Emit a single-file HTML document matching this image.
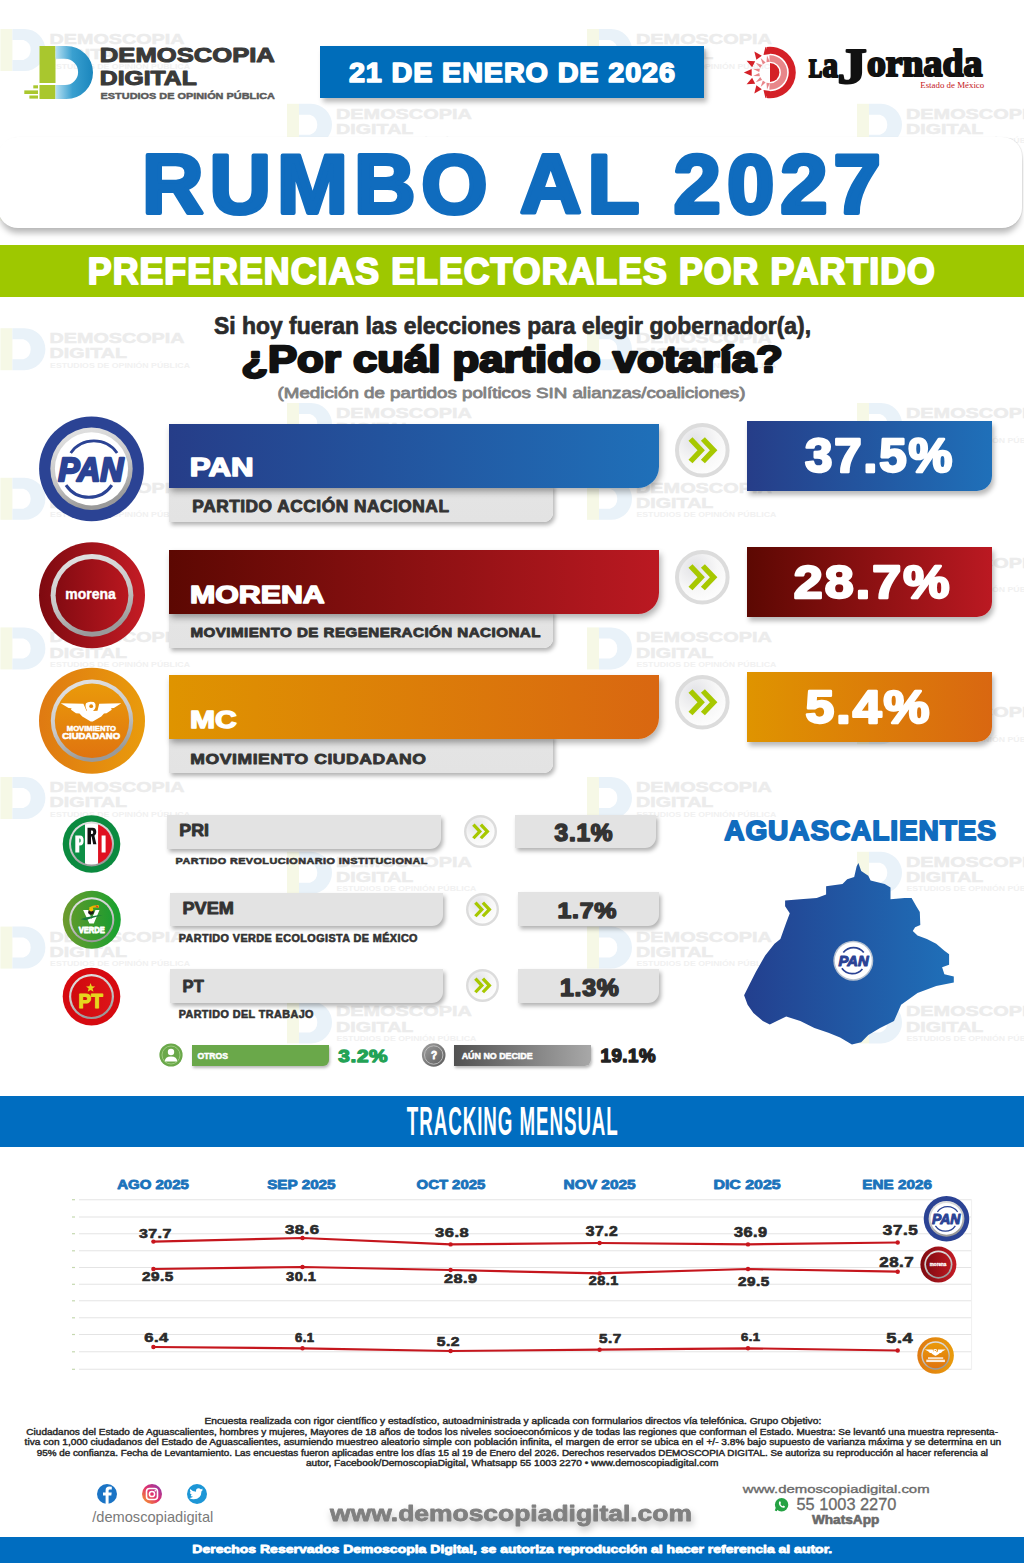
<!DOCTYPE html>
<html><head><meta charset="utf-8"><title>Rumbo al 2027</title>
<style>
html,body{margin:0;padding:0;background:#fff;}
body{width:1024px;height:1563px;position:relative;overflow:hidden;font-family:"Liberation Sans", sans-serif;}
svg{position:absolute;overflow:visible}
</style></head><body>
<svg style="left:0;top:0" width="1024" height="1100" viewBox="0 0 1024 1100"><g transform="translate(50.4,33.0)">
<rect x="-50" y="-4" width="12" height="42" fill="#f6f8e6"/>
<path d="M-38 -4 H-26 A21 21 0 0 1 -26 38 H-38 V27 H-27 A10.5 10.5 0 0 0 -27 7 H-38 Z" fill="#e9f2f9"/>
</g><text transform="translate(49.62,44.05) scale(1.2853,1)" font-family='"Liberation Sans", sans-serif' font-size="15.36" font-weight="bold" font-style="normal" fill="#ececec"  stroke="#ececec" stroke-width="0.5" stroke-linejoin="round"  >DEMOSCOPIA</text><text transform="translate(49.61,59.15) scale(1.3344,1)" font-family='"Liberation Sans", sans-serif' font-size="14.79" font-weight="bold" font-style="normal" fill="#ececec"  stroke="#ececec" stroke-width="0.5" stroke-linejoin="round"  >DIGITAL</text><text transform="translate(50.05,68.50) scale(1.1840,1)" font-family='"Liberation Sans", sans-serif' font-size="7.40" font-weight="bold" font-style="normal" fill="#f1f1f1"   >ESTUDIOS DE OPINIÓN PÚBLICA</text><g transform="translate(637.0,33.0)">
<rect x="-50" y="-4" width="12" height="42" fill="#f6f8e6"/>
<path d="M-38 -4 H-26 A21 21 0 0 1 -26 38 H-38 V27 H-27 A10.5 10.5 0 0 0 -27 7 H-38 Z" fill="#e9f2f9"/>
</g><text transform="translate(636.01,44.05) scale(1.2949,1)" font-family='"Liberation Sans", sans-serif' font-size="15.36" font-weight="bold" font-style="normal" fill="#ececec"  stroke="#ececec" stroke-width="0.5" stroke-linejoin="round"  >DEMOSCOPIA</text><text transform="translate(636.02,59.15) scale(1.3344,1)" font-family='"Liberation Sans", sans-serif' font-size="14.79" font-weight="bold" font-style="normal" fill="#ececec"  stroke="#ececec" stroke-width="0.5" stroke-linejoin="round"  >DIGITAL</text><text transform="translate(636.45,68.50) scale(1.1840,1)" font-family='"Liberation Sans", sans-serif' font-size="7.40" font-weight="bold" font-style="normal" fill="#f1f1f1"   >ESTUDIOS DE OPINIÓN PÚBLICA</text><g transform="translate(337.0,107.8)">
<rect x="-50" y="-4" width="12" height="42" fill="#f6f8e6"/>
<path d="M-38 -4 H-26 A21 21 0 0 1 -26 38 H-38 V27 H-27 A10.5 10.5 0 0 0 -27 7 H-38 Z" fill="#e9f2f9"/>
</g><text transform="translate(336.01,118.85) scale(1.2949,1)" font-family='"Liberation Sans", sans-serif' font-size="15.36" font-weight="bold" font-style="normal" fill="#ececec"  stroke="#ececec" stroke-width="0.5" stroke-linejoin="round"  >DEMOSCOPIA</text><text transform="translate(336.02,133.95) scale(1.3344,1)" font-family='"Liberation Sans", sans-serif' font-size="14.79" font-weight="bold" font-style="normal" fill="#ececec"  stroke="#ececec" stroke-width="0.5" stroke-linejoin="round"  >DIGITAL</text><text transform="translate(336.45,143.30) scale(1.1840,1)" font-family='"Liberation Sans", sans-serif' font-size="7.40" font-weight="bold" font-style="normal" fill="#f1f1f1"   >ESTUDIOS DE OPINIÓN PÚBLICA</text><g transform="translate(907.0,107.8)">
<rect x="-50" y="-4" width="12" height="42" fill="#f6f8e6"/>
<path d="M-38 -4 H-26 A21 21 0 0 1 -26 38 H-38 V27 H-27 A10.5 10.5 0 0 0 -27 7 H-38 Z" fill="#e9f2f9"/>
</g><text transform="translate(906.01,118.85) scale(1.2949,1)" font-family='"Liberation Sans", sans-serif' font-size="15.36" font-weight="bold" font-style="normal" fill="#ececec"  stroke="#ececec" stroke-width="0.5" stroke-linejoin="round"  >DEMOSCOPIA</text><text transform="translate(906.02,133.95) scale(1.3344,1)" font-family='"Liberation Sans", sans-serif' font-size="14.79" font-weight="bold" font-style="normal" fill="#ececec"  stroke="#ececec" stroke-width="0.5" stroke-linejoin="round"  >DIGITAL</text><text transform="translate(906.45,143.30) scale(1.1840,1)" font-family='"Liberation Sans", sans-serif' font-size="7.40" font-weight="bold" font-style="normal" fill="#f1f1f1"   >ESTUDIOS DE OPINIÓN PÚBLICA</text><g transform="translate(50.4,182.6)">
<rect x="-50" y="-4" width="12" height="42" fill="#f6f8e6"/>
<path d="M-38 -4 H-26 A21 21 0 0 1 -26 38 H-38 V27 H-27 A10.5 10.5 0 0 0 -27 7 H-38 Z" fill="#e9f2f9"/>
</g><text transform="translate(49.62,193.65) scale(1.2853,1)" font-family='"Liberation Sans", sans-serif' font-size="15.36" font-weight="bold" font-style="normal" fill="#ececec"  stroke="#ececec" stroke-width="0.5" stroke-linejoin="round"  >DEMOSCOPIA</text><text transform="translate(49.61,208.75) scale(1.3344,1)" font-family='"Liberation Sans", sans-serif' font-size="14.79" font-weight="bold" font-style="normal" fill="#ececec"  stroke="#ececec" stroke-width="0.5" stroke-linejoin="round"  >DIGITAL</text><text transform="translate(50.05,218.10) scale(1.1840,1)" font-family='"Liberation Sans", sans-serif' font-size="7.40" font-weight="bold" font-style="normal" fill="#f1f1f1"   >ESTUDIOS DE OPINIÓN PÚBLICA</text><g transform="translate(637.0,182.6)">
<rect x="-50" y="-4" width="12" height="42" fill="#f6f8e6"/>
<path d="M-38 -4 H-26 A21 21 0 0 1 -26 38 H-38 V27 H-27 A10.5 10.5 0 0 0 -27 7 H-38 Z" fill="#e9f2f9"/>
</g><text transform="translate(636.01,193.65) scale(1.2949,1)" font-family='"Liberation Sans", sans-serif' font-size="15.36" font-weight="bold" font-style="normal" fill="#ececec"  stroke="#ececec" stroke-width="0.5" stroke-linejoin="round"  >DEMOSCOPIA</text><text transform="translate(636.02,208.75) scale(1.3344,1)" font-family='"Liberation Sans", sans-serif' font-size="14.79" font-weight="bold" font-style="normal" fill="#ececec"  stroke="#ececec" stroke-width="0.5" stroke-linejoin="round"  >DIGITAL</text><text transform="translate(636.45,218.10) scale(1.1840,1)" font-family='"Liberation Sans", sans-serif' font-size="7.40" font-weight="bold" font-style="normal" fill="#f1f1f1"   >ESTUDIOS DE OPINIÓN PÚBLICA</text><g transform="translate(337.0,257.4)">
<rect x="-50" y="-4" width="12" height="42" fill="#f6f8e6"/>
<path d="M-38 -4 H-26 A21 21 0 0 1 -26 38 H-38 V27 H-27 A10.5 10.5 0 0 0 -27 7 H-38 Z" fill="#e9f2f9"/>
</g><text transform="translate(336.01,268.45) scale(1.2949,1)" font-family='"Liberation Sans", sans-serif' font-size="15.36" font-weight="bold" font-style="normal" fill="#ececec"  stroke="#ececec" stroke-width="0.5" stroke-linejoin="round"  >DEMOSCOPIA</text><text transform="translate(336.02,283.55) scale(1.3344,1)" font-family='"Liberation Sans", sans-serif' font-size="14.79" font-weight="bold" font-style="normal" fill="#ececec"  stroke="#ececec" stroke-width="0.5" stroke-linejoin="round"  >DIGITAL</text><text transform="translate(336.45,292.90) scale(1.1840,1)" font-family='"Liberation Sans", sans-serif' font-size="7.40" font-weight="bold" font-style="normal" fill="#f1f1f1"   >ESTUDIOS DE OPINIÓN PÚBLICA</text><g transform="translate(907.0,257.4)">
<rect x="-50" y="-4" width="12" height="42" fill="#f6f8e6"/>
<path d="M-38 -4 H-26 A21 21 0 0 1 -26 38 H-38 V27 H-27 A10.5 10.5 0 0 0 -27 7 H-38 Z" fill="#e9f2f9"/>
</g><text transform="translate(906.01,268.45) scale(1.2949,1)" font-family='"Liberation Sans", sans-serif' font-size="15.36" font-weight="bold" font-style="normal" fill="#ececec"  stroke="#ececec" stroke-width="0.5" stroke-linejoin="round"  >DEMOSCOPIA</text><text transform="translate(906.02,283.55) scale(1.3344,1)" font-family='"Liberation Sans", sans-serif' font-size="14.79" font-weight="bold" font-style="normal" fill="#ececec"  stroke="#ececec" stroke-width="0.5" stroke-linejoin="round"  >DIGITAL</text><text transform="translate(906.45,292.90) scale(1.1840,1)" font-family='"Liberation Sans", sans-serif' font-size="7.40" font-weight="bold" font-style="normal" fill="#f1f1f1"   >ESTUDIOS DE OPINIÓN PÚBLICA</text><g transform="translate(50.4,332.2)">
<rect x="-50" y="-4" width="12" height="42" fill="#f6f8e6"/>
<path d="M-38 -4 H-26 A21 21 0 0 1 -26 38 H-38 V27 H-27 A10.5 10.5 0 0 0 -27 7 H-38 Z" fill="#e9f2f9"/>
</g><text transform="translate(49.62,343.25) scale(1.2853,1)" font-family='"Liberation Sans", sans-serif' font-size="15.36" font-weight="bold" font-style="normal" fill="#ececec"  stroke="#ececec" stroke-width="0.5" stroke-linejoin="round"  >DEMOSCOPIA</text><text transform="translate(49.61,358.35) scale(1.3344,1)" font-family='"Liberation Sans", sans-serif' font-size="14.79" font-weight="bold" font-style="normal" fill="#ececec"  stroke="#ececec" stroke-width="0.5" stroke-linejoin="round"  >DIGITAL</text><text transform="translate(50.05,367.70) scale(1.1840,1)" font-family='"Liberation Sans", sans-serif' font-size="7.40" font-weight="bold" font-style="normal" fill="#f1f1f1"   >ESTUDIOS DE OPINIÓN PÚBLICA</text><g transform="translate(637.0,332.2)">
<rect x="-50" y="-4" width="12" height="42" fill="#f6f8e6"/>
<path d="M-38 -4 H-26 A21 21 0 0 1 -26 38 H-38 V27 H-27 A10.5 10.5 0 0 0 -27 7 H-38 Z" fill="#e9f2f9"/>
</g><text transform="translate(636.01,343.25) scale(1.2949,1)" font-family='"Liberation Sans", sans-serif' font-size="15.36" font-weight="bold" font-style="normal" fill="#ececec"  stroke="#ececec" stroke-width="0.5" stroke-linejoin="round"  >DEMOSCOPIA</text><text transform="translate(636.02,358.35) scale(1.3344,1)" font-family='"Liberation Sans", sans-serif' font-size="14.79" font-weight="bold" font-style="normal" fill="#ececec"  stroke="#ececec" stroke-width="0.5" stroke-linejoin="round"  >DIGITAL</text><text transform="translate(636.45,367.70) scale(1.1840,1)" font-family='"Liberation Sans", sans-serif' font-size="7.40" font-weight="bold" font-style="normal" fill="#f1f1f1"   >ESTUDIOS DE OPINIÓN PÚBLICA</text><g transform="translate(337.0,407.0)">
<rect x="-50" y="-4" width="12" height="42" fill="#f6f8e6"/>
<path d="M-38 -4 H-26 A21 21 0 0 1 -26 38 H-38 V27 H-27 A10.5 10.5 0 0 0 -27 7 H-38 Z" fill="#e9f2f9"/>
</g><text transform="translate(336.01,418.05) scale(1.2949,1)" font-family='"Liberation Sans", sans-serif' font-size="15.36" font-weight="bold" font-style="normal" fill="#ececec"  stroke="#ececec" stroke-width="0.5" stroke-linejoin="round"  >DEMOSCOPIA</text><text transform="translate(336.02,433.15) scale(1.3344,1)" font-family='"Liberation Sans", sans-serif' font-size="14.79" font-weight="bold" font-style="normal" fill="#ececec"  stroke="#ececec" stroke-width="0.5" stroke-linejoin="round"  >DIGITAL</text><text transform="translate(336.45,442.50) scale(1.1840,1)" font-family='"Liberation Sans", sans-serif' font-size="7.40" font-weight="bold" font-style="normal" fill="#f1f1f1"   >ESTUDIOS DE OPINIÓN PÚBLICA</text><g transform="translate(907.0,407.0)">
<rect x="-50" y="-4" width="12" height="42" fill="#f6f8e6"/>
<path d="M-38 -4 H-26 A21 21 0 0 1 -26 38 H-38 V27 H-27 A10.5 10.5 0 0 0 -27 7 H-38 Z" fill="#e9f2f9"/>
</g><text transform="translate(906.01,418.05) scale(1.2949,1)" font-family='"Liberation Sans", sans-serif' font-size="15.36" font-weight="bold" font-style="normal" fill="#ececec"  stroke="#ececec" stroke-width="0.5" stroke-linejoin="round"  >DEMOSCOPIA</text><text transform="translate(906.02,433.15) scale(1.3344,1)" font-family='"Liberation Sans", sans-serif' font-size="14.79" font-weight="bold" font-style="normal" fill="#ececec"  stroke="#ececec" stroke-width="0.5" stroke-linejoin="round"  >DIGITAL</text><text transform="translate(906.45,442.50) scale(1.1840,1)" font-family='"Liberation Sans", sans-serif' font-size="7.40" font-weight="bold" font-style="normal" fill="#f1f1f1"   >ESTUDIOS DE OPINIÓN PÚBLICA</text><g transform="translate(50.4,481.8)">
<rect x="-50" y="-4" width="12" height="42" fill="#f6f8e6"/>
<path d="M-38 -4 H-26 A21 21 0 0 1 -26 38 H-38 V27 H-27 A10.5 10.5 0 0 0 -27 7 H-38 Z" fill="#e9f2f9"/>
</g><text transform="translate(49.62,492.85) scale(1.2853,1)" font-family='"Liberation Sans", sans-serif' font-size="15.36" font-weight="bold" font-style="normal" fill="#ececec"  stroke="#ececec" stroke-width="0.5" stroke-linejoin="round"  >DEMOSCOPIA</text><text transform="translate(49.61,507.95) scale(1.3344,1)" font-family='"Liberation Sans", sans-serif' font-size="14.79" font-weight="bold" font-style="normal" fill="#ececec"  stroke="#ececec" stroke-width="0.5" stroke-linejoin="round"  >DIGITAL</text><text transform="translate(50.05,517.30) scale(1.1840,1)" font-family='"Liberation Sans", sans-serif' font-size="7.40" font-weight="bold" font-style="normal" fill="#f1f1f1"   >ESTUDIOS DE OPINIÓN PÚBLICA</text><g transform="translate(637.0,481.8)">
<rect x="-50" y="-4" width="12" height="42" fill="#f6f8e6"/>
<path d="M-38 -4 H-26 A21 21 0 0 1 -26 38 H-38 V27 H-27 A10.5 10.5 0 0 0 -27 7 H-38 Z" fill="#e9f2f9"/>
</g><text transform="translate(636.01,492.85) scale(1.2949,1)" font-family='"Liberation Sans", sans-serif' font-size="15.36" font-weight="bold" font-style="normal" fill="#ececec"  stroke="#ececec" stroke-width="0.5" stroke-linejoin="round"  >DEMOSCOPIA</text><text transform="translate(636.02,507.95) scale(1.3344,1)" font-family='"Liberation Sans", sans-serif' font-size="14.79" font-weight="bold" font-style="normal" fill="#ececec"  stroke="#ececec" stroke-width="0.5" stroke-linejoin="round"  >DIGITAL</text><text transform="translate(636.45,517.30) scale(1.1840,1)" font-family='"Liberation Sans", sans-serif' font-size="7.40" font-weight="bold" font-style="normal" fill="#f1f1f1"   >ESTUDIOS DE OPINIÓN PÚBLICA</text><g transform="translate(337.0,556.6)">
<rect x="-50" y="-4" width="12" height="42" fill="#f6f8e6"/>
<path d="M-38 -4 H-26 A21 21 0 0 1 -26 38 H-38 V27 H-27 A10.5 10.5 0 0 0 -27 7 H-38 Z" fill="#e9f2f9"/>
</g><text transform="translate(336.01,567.65) scale(1.2949,1)" font-family='"Liberation Sans", sans-serif' font-size="15.36" font-weight="bold" font-style="normal" fill="#ececec"  stroke="#ececec" stroke-width="0.5" stroke-linejoin="round"  >DEMOSCOPIA</text><text transform="translate(336.02,582.75) scale(1.3344,1)" font-family='"Liberation Sans", sans-serif' font-size="14.79" font-weight="bold" font-style="normal" fill="#ececec"  stroke="#ececec" stroke-width="0.5" stroke-linejoin="round"  >DIGITAL</text><text transform="translate(336.45,592.10) scale(1.1840,1)" font-family='"Liberation Sans", sans-serif' font-size="7.40" font-weight="bold" font-style="normal" fill="#f1f1f1"   >ESTUDIOS DE OPINIÓN PÚBLICA</text><g transform="translate(907.0,556.6)">
<rect x="-50" y="-4" width="12" height="42" fill="#f6f8e6"/>
<path d="M-38 -4 H-26 A21 21 0 0 1 -26 38 H-38 V27 H-27 A10.5 10.5 0 0 0 -27 7 H-38 Z" fill="#e9f2f9"/>
</g><text transform="translate(906.01,567.65) scale(1.2949,1)" font-family='"Liberation Sans", sans-serif' font-size="15.36" font-weight="bold" font-style="normal" fill="#ececec"  stroke="#ececec" stroke-width="0.5" stroke-linejoin="round"  >DEMOSCOPIA</text><text transform="translate(906.02,582.75) scale(1.3344,1)" font-family='"Liberation Sans", sans-serif' font-size="14.79" font-weight="bold" font-style="normal" fill="#ececec"  stroke="#ececec" stroke-width="0.5" stroke-linejoin="round"  >DIGITAL</text><text transform="translate(906.45,592.10) scale(1.1840,1)" font-family='"Liberation Sans", sans-serif' font-size="7.40" font-weight="bold" font-style="normal" fill="#f1f1f1"   >ESTUDIOS DE OPINIÓN PÚBLICA</text><g transform="translate(50.4,631.4)">
<rect x="-50" y="-4" width="12" height="42" fill="#f6f8e6"/>
<path d="M-38 -4 H-26 A21 21 0 0 1 -26 38 H-38 V27 H-27 A10.5 10.5 0 0 0 -27 7 H-38 Z" fill="#e9f2f9"/>
</g><text transform="translate(49.62,642.45) scale(1.2853,1)" font-family='"Liberation Sans", sans-serif' font-size="15.36" font-weight="bold" font-style="normal" fill="#ececec"  stroke="#ececec" stroke-width="0.5" stroke-linejoin="round"  >DEMOSCOPIA</text><text transform="translate(49.61,657.55) scale(1.3344,1)" font-family='"Liberation Sans", sans-serif' font-size="14.79" font-weight="bold" font-style="normal" fill="#ececec"  stroke="#ececec" stroke-width="0.5" stroke-linejoin="round"  >DIGITAL</text><text transform="translate(50.05,666.90) scale(1.1840,1)" font-family='"Liberation Sans", sans-serif' font-size="7.40" font-weight="bold" font-style="normal" fill="#f1f1f1"   >ESTUDIOS DE OPINIÓN PÚBLICA</text><g transform="translate(637.0,631.4)">
<rect x="-50" y="-4" width="12" height="42" fill="#f6f8e6"/>
<path d="M-38 -4 H-26 A21 21 0 0 1 -26 38 H-38 V27 H-27 A10.5 10.5 0 0 0 -27 7 H-38 Z" fill="#e9f2f9"/>
</g><text transform="translate(636.01,642.45) scale(1.2949,1)" font-family='"Liberation Sans", sans-serif' font-size="15.36" font-weight="bold" font-style="normal" fill="#ececec"  stroke="#ececec" stroke-width="0.5" stroke-linejoin="round"  >DEMOSCOPIA</text><text transform="translate(636.02,657.55) scale(1.3344,1)" font-family='"Liberation Sans", sans-serif' font-size="14.79" font-weight="bold" font-style="normal" fill="#ececec"  stroke="#ececec" stroke-width="0.5" stroke-linejoin="round"  >DIGITAL</text><text transform="translate(636.45,666.90) scale(1.1840,1)" font-family='"Liberation Sans", sans-serif' font-size="7.40" font-weight="bold" font-style="normal" fill="#f1f1f1"   >ESTUDIOS DE OPINIÓN PÚBLICA</text><g transform="translate(337.0,706.2)">
<rect x="-50" y="-4" width="12" height="42" fill="#f6f8e6"/>
<path d="M-38 -4 H-26 A21 21 0 0 1 -26 38 H-38 V27 H-27 A10.5 10.5 0 0 0 -27 7 H-38 Z" fill="#e9f2f9"/>
</g><text transform="translate(336.01,717.25) scale(1.2949,1)" font-family='"Liberation Sans", sans-serif' font-size="15.36" font-weight="bold" font-style="normal" fill="#ececec"  stroke="#ececec" stroke-width="0.5" stroke-linejoin="round"  >DEMOSCOPIA</text><text transform="translate(336.02,732.35) scale(1.3344,1)" font-family='"Liberation Sans", sans-serif' font-size="14.79" font-weight="bold" font-style="normal" fill="#ececec"  stroke="#ececec" stroke-width="0.5" stroke-linejoin="round"  >DIGITAL</text><text transform="translate(336.45,741.70) scale(1.1840,1)" font-family='"Liberation Sans", sans-serif' font-size="7.40" font-weight="bold" font-style="normal" fill="#f1f1f1"   >ESTUDIOS DE OPINIÓN PÚBLICA</text><g transform="translate(907.0,706.2)">
<rect x="-50" y="-4" width="12" height="42" fill="#f6f8e6"/>
<path d="M-38 -4 H-26 A21 21 0 0 1 -26 38 H-38 V27 H-27 A10.5 10.5 0 0 0 -27 7 H-38 Z" fill="#e9f2f9"/>
</g><text transform="translate(906.01,717.25) scale(1.2949,1)" font-family='"Liberation Sans", sans-serif' font-size="15.36" font-weight="bold" font-style="normal" fill="#ececec"  stroke="#ececec" stroke-width="0.5" stroke-linejoin="round"  >DEMOSCOPIA</text><text transform="translate(906.02,732.35) scale(1.3344,1)" font-family='"Liberation Sans", sans-serif' font-size="14.79" font-weight="bold" font-style="normal" fill="#ececec"  stroke="#ececec" stroke-width="0.5" stroke-linejoin="round"  >DIGITAL</text><text transform="translate(906.45,741.70) scale(1.1840,1)" font-family='"Liberation Sans", sans-serif' font-size="7.40" font-weight="bold" font-style="normal" fill="#f1f1f1"   >ESTUDIOS DE OPINIÓN PÚBLICA</text><g transform="translate(50.4,781.0)">
<rect x="-50" y="-4" width="12" height="42" fill="#f6f8e6"/>
<path d="M-38 -4 H-26 A21 21 0 0 1 -26 38 H-38 V27 H-27 A10.5 10.5 0 0 0 -27 7 H-38 Z" fill="#e9f2f9"/>
</g><text transform="translate(49.62,792.05) scale(1.2853,1)" font-family='"Liberation Sans", sans-serif' font-size="15.36" font-weight="bold" font-style="normal" fill="#ececec"  stroke="#ececec" stroke-width="0.5" stroke-linejoin="round"  >DEMOSCOPIA</text><text transform="translate(49.61,807.15) scale(1.3344,1)" font-family='"Liberation Sans", sans-serif' font-size="14.79" font-weight="bold" font-style="normal" fill="#ececec"  stroke="#ececec" stroke-width="0.5" stroke-linejoin="round"  >DIGITAL</text><text transform="translate(50.05,816.50) scale(1.1840,1)" font-family='"Liberation Sans", sans-serif' font-size="7.40" font-weight="bold" font-style="normal" fill="#f1f1f1"   >ESTUDIOS DE OPINIÓN PÚBLICA</text><g transform="translate(637.0,781.0)">
<rect x="-50" y="-4" width="12" height="42" fill="#f6f8e6"/>
<path d="M-38 -4 H-26 A21 21 0 0 1 -26 38 H-38 V27 H-27 A10.5 10.5 0 0 0 -27 7 H-38 Z" fill="#e9f2f9"/>
</g><text transform="translate(636.01,792.05) scale(1.2949,1)" font-family='"Liberation Sans", sans-serif' font-size="15.36" font-weight="bold" font-style="normal" fill="#ececec"  stroke="#ececec" stroke-width="0.5" stroke-linejoin="round"  >DEMOSCOPIA</text><text transform="translate(636.02,807.15) scale(1.3344,1)" font-family='"Liberation Sans", sans-serif' font-size="14.79" font-weight="bold" font-style="normal" fill="#ececec"  stroke="#ececec" stroke-width="0.5" stroke-linejoin="round"  >DIGITAL</text><text transform="translate(636.45,816.50) scale(1.1840,1)" font-family='"Liberation Sans", sans-serif' font-size="7.40" font-weight="bold" font-style="normal" fill="#f1f1f1"   >ESTUDIOS DE OPINIÓN PÚBLICA</text><g transform="translate(337.0,855.8)">
<rect x="-50" y="-4" width="12" height="42" fill="#f6f8e6"/>
<path d="M-38 -4 H-26 A21 21 0 0 1 -26 38 H-38 V27 H-27 A10.5 10.5 0 0 0 -27 7 H-38 Z" fill="#e9f2f9"/>
</g><text transform="translate(336.01,866.85) scale(1.2949,1)" font-family='"Liberation Sans", sans-serif' font-size="15.36" font-weight="bold" font-style="normal" fill="#ececec"  stroke="#ececec" stroke-width="0.5" stroke-linejoin="round"  >DEMOSCOPIA</text><text transform="translate(336.02,881.95) scale(1.3344,1)" font-family='"Liberation Sans", sans-serif' font-size="14.79" font-weight="bold" font-style="normal" fill="#ececec"  stroke="#ececec" stroke-width="0.5" stroke-linejoin="round"  >DIGITAL</text><text transform="translate(336.45,891.30) scale(1.1840,1)" font-family='"Liberation Sans", sans-serif' font-size="7.40" font-weight="bold" font-style="normal" fill="#f1f1f1"   >ESTUDIOS DE OPINIÓN PÚBLICA</text><g transform="translate(907.0,855.8)">
<rect x="-50" y="-4" width="12" height="42" fill="#f6f8e6"/>
<path d="M-38 -4 H-26 A21 21 0 0 1 -26 38 H-38 V27 H-27 A10.5 10.5 0 0 0 -27 7 H-38 Z" fill="#e9f2f9"/>
</g><text transform="translate(906.01,866.85) scale(1.2949,1)" font-family='"Liberation Sans", sans-serif' font-size="15.36" font-weight="bold" font-style="normal" fill="#ececec"  stroke="#ececec" stroke-width="0.5" stroke-linejoin="round"  >DEMOSCOPIA</text><text transform="translate(906.02,881.95) scale(1.3344,1)" font-family='"Liberation Sans", sans-serif' font-size="14.79" font-weight="bold" font-style="normal" fill="#ececec"  stroke="#ececec" stroke-width="0.5" stroke-linejoin="round"  >DIGITAL</text><text transform="translate(906.45,891.30) scale(1.1840,1)" font-family='"Liberation Sans", sans-serif' font-size="7.40" font-weight="bold" font-style="normal" fill="#f1f1f1"   >ESTUDIOS DE OPINIÓN PÚBLICA</text><g transform="translate(50.4,930.6)">
<rect x="-50" y="-4" width="12" height="42" fill="#f6f8e6"/>
<path d="M-38 -4 H-26 A21 21 0 0 1 -26 38 H-38 V27 H-27 A10.5 10.5 0 0 0 -27 7 H-38 Z" fill="#e9f2f9"/>
</g><text transform="translate(49.62,941.65) scale(1.2853,1)" font-family='"Liberation Sans", sans-serif' font-size="15.36" font-weight="bold" font-style="normal" fill="#ececec"  stroke="#ececec" stroke-width="0.5" stroke-linejoin="round"  >DEMOSCOPIA</text><text transform="translate(49.61,956.75) scale(1.3344,1)" font-family='"Liberation Sans", sans-serif' font-size="14.79" font-weight="bold" font-style="normal" fill="#ececec"  stroke="#ececec" stroke-width="0.5" stroke-linejoin="round"  >DIGITAL</text><text transform="translate(50.05,966.10) scale(1.1840,1)" font-family='"Liberation Sans", sans-serif' font-size="7.40" font-weight="bold" font-style="normal" fill="#f1f1f1"   >ESTUDIOS DE OPINIÓN PÚBLICA</text><g transform="translate(637.0,930.6)">
<rect x="-50" y="-4" width="12" height="42" fill="#f6f8e6"/>
<path d="M-38 -4 H-26 A21 21 0 0 1 -26 38 H-38 V27 H-27 A10.5 10.5 0 0 0 -27 7 H-38 Z" fill="#e9f2f9"/>
</g><text transform="translate(636.01,941.65) scale(1.2949,1)" font-family='"Liberation Sans", sans-serif' font-size="15.36" font-weight="bold" font-style="normal" fill="#ececec"  stroke="#ececec" stroke-width="0.5" stroke-linejoin="round"  >DEMOSCOPIA</text><text transform="translate(636.02,956.75) scale(1.3344,1)" font-family='"Liberation Sans", sans-serif' font-size="14.79" font-weight="bold" font-style="normal" fill="#ececec"  stroke="#ececec" stroke-width="0.5" stroke-linejoin="round"  >DIGITAL</text><text transform="translate(636.45,966.10) scale(1.1840,1)" font-family='"Liberation Sans", sans-serif' font-size="7.40" font-weight="bold" font-style="normal" fill="#f1f1f1"   >ESTUDIOS DE OPINIÓN PÚBLICA</text><g transform="translate(337.0,1005.4)">
<rect x="-50" y="-4" width="12" height="42" fill="#f6f8e6"/>
<path d="M-38 -4 H-26 A21 21 0 0 1 -26 38 H-38 V27 H-27 A10.5 10.5 0 0 0 -27 7 H-38 Z" fill="#e9f2f9"/>
</g><text transform="translate(336.01,1016.45) scale(1.2949,1)" font-family='"Liberation Sans", sans-serif' font-size="15.36" font-weight="bold" font-style="normal" fill="#ececec"  stroke="#ececec" stroke-width="0.5" stroke-linejoin="round"  >DEMOSCOPIA</text><text transform="translate(336.02,1031.55) scale(1.3344,1)" font-family='"Liberation Sans", sans-serif' font-size="14.79" font-weight="bold" font-style="normal" fill="#ececec"  stroke="#ececec" stroke-width="0.5" stroke-linejoin="round"  >DIGITAL</text><text transform="translate(336.45,1040.90) scale(1.1840,1)" font-family='"Liberation Sans", sans-serif' font-size="7.40" font-weight="bold" font-style="normal" fill="#f1f1f1"   >ESTUDIOS DE OPINIÓN PÚBLICA</text><g transform="translate(907.0,1005.4)">
<rect x="-50" y="-4" width="12" height="42" fill="#f6f8e6"/>
<path d="M-38 -4 H-26 A21 21 0 0 1 -26 38 H-38 V27 H-27 A10.5 10.5 0 0 0 -27 7 H-38 Z" fill="#e9f2f9"/>
</g><text transform="translate(906.01,1016.45) scale(1.2949,1)" font-family='"Liberation Sans", sans-serif' font-size="15.36" font-weight="bold" font-style="normal" fill="#ececec"  stroke="#ececec" stroke-width="0.5" stroke-linejoin="round"  >DEMOSCOPIA</text><text transform="translate(906.02,1031.55) scale(1.3344,1)" font-family='"Liberation Sans", sans-serif' font-size="14.79" font-weight="bold" font-style="normal" fill="#ececec"  stroke="#ececec" stroke-width="0.5" stroke-linejoin="round"  >DIGITAL</text><text transform="translate(906.45,1040.90) scale(1.1840,1)" font-family='"Liberation Sans", sans-serif' font-size="7.40" font-weight="bold" font-style="normal" fill="#f1f1f1"   >ESTUDIOS DE OPINIÓN PÚBLICA</text></svg>
<div style="position:absolute;left:-2px;top:137px;width:1024px;height:91px;background:#fff;border-radius:20px;box-shadow:0 7px 6px -2px rgba(0,0,0,.28), 1px 0 1px rgba(0,0,0,.08)"></div>
<svg style="left:20px;top:42px" width="80" height="62" viewBox="20 42 80 62">
<defs><linearGradient id="dgr" x1="0" x2="1" y1="0" y2="0"><stop offset="0" stop-color="#b7e0f2"/><stop offset="0.45" stop-color="#3aa0d0"/><stop offset="1" stop-color="#1a86bd"/></linearGradient></defs>
<rect x="39.5" y="46" width="16" height="37" fill="#a9c72e"/>
<rect x="39.5" y="85" width="16" height="14" fill="#a9c72e"/>
<rect x="33.3" y="85.3" width="4.7" height="3.1" fill="#a9c72e"/>
<rect x="24.3" y="90.4" width="13.7" height="3.6" fill="#a9c72e"/>
<rect x="29.4" y="95.5" width="8.6" height="3.1" fill="#a9c72e"/>
<path d="M55.5 46 H66.5 A26.5 26.5 0 0 1 66.5 99 H55.5 V85 H65 A13 13 0 0 0 65 58.8 H55.5 Z" fill="url(#dgr)"/>
</svg>
<div style="position:absolute;left:320px;top:46px;width:384px;height:52px;background:#006dba;box-shadow:3px 4px 5px rgba(0,0,0,.28)"></div>
<svg style="left:0;top:0" width="1024" height="120" viewBox="0 0 1024 120"><path d="M766.41 46.95 A25.8 25.8 0 1 1 766.41 98.05 L767.38 91.12 A18.8 18.8 0 1 0 767.38 53.88 Z" fill="#d42027"/><path d="M769.40 55.31 A17.2 17.2 0 1 1 769.40 89.69 L769.62 83.29 A10.8 10.8 0 1 0 769.62 61.71 Z" fill="#e8868a"/><path d="M770 63.1 A9.4 9.4 0 0 1 770 81.9 Z" fill="#d42027"/><path d="M765.45 98.30 L770.16 91.10 L763.49 89.92 Z" fill="#d42027"/><path d="M754.35 93.52 L761.80 89.19 L756.36 85.15 Z" fill="#d42027"/><path d="M746.59 84.26 L755.18 83.74 L752.14 77.68 Z" fill="#d42027"/><path d="M743.80 72.50 L751.71 75.89 L751.71 69.11 Z" fill="#d42027"/><path d="M746.59 60.74 L752.14 67.32 L755.18 61.26 Z" fill="#d42027"/><path d="M754.35 51.48 L756.36 59.85 L761.80 55.81 Z" fill="#d42027"/><path d="M765.45 46.70 L763.49 55.08 L770.16 53.90 Z" fill="#d42027"/><path d="M767.01 89.44 L769.81 83.30 L766.48 82.71 Z" fill="#e8868a"/><path d="M760.67 86.95 L765.63 82.38 L762.79 80.54 Z" fill="#e8868a"/><path d="M755.79 82.19 L762.14 79.90 L760.23 77.11 Z" fill="#e8868a"/><path d="M753.14 75.91 L759.88 76.27 L759.21 72.96 Z" fill="#e8868a"/><path d="M753.14 69.09 L759.21 72.04 L759.88 68.73 Z" fill="#e8868a"/><path d="M755.79 62.81 L760.23 67.89 L762.14 65.10 Z" fill="#e8868a"/><path d="M760.67 58.05 L762.79 64.46 L765.63 62.62 Z" fill="#e8868a"/><path d="M767.01 55.56 L766.48 62.29 L769.81 61.70 Z" fill="#e8868a"/></svg>
<div style="position:absolute;left:0px;top:245px;width:1024px;height:52px;background:#9ec800"></div>
<svg width="0" height="0" style="left:0;top:0"><defs>
<radialGradient id="arrg" cx="0.35" cy="0.3" r="0.8"><stop offset="0" stop-color="#e2e2e6"/><stop offset="0.55" stop-color="#f7f7f7"/><stop offset="1" stop-color="#ffffff"/></radialGradient>
<linearGradient id="ringg" x1="0" y1="0" x2="0.3" y2="1"><stop offset="0" stop-color="#e6e6e6"/><stop offset="0.6" stop-color="#c8c8c8"/><stop offset="1" stop-color="#9a9a9a"/></linearGradient>
<linearGradient id="morg" x1="0" x2="1"><stop offset="0" stop-color="#7e0a10"/><stop offset="1" stop-color="#c41c25"/></linearGradient>
<linearGradient id="morg2" x1="0" x2="1"><stop offset="0" stop-color="#840b12"/><stop offset="1" stop-color="#b9171f"/></linearGradient>
<linearGradient id="mcg" x1="0" x2="1"><stop offset="0" stop-color="#df7a12"/><stop offset="1" stop-color="#e99b0c"/></linearGradient>
<linearGradient id="mcg2" x1="0" x2="0" y1="0" y2="1"><stop offset="0" stop-color="#ea9a0a"/><stop offset="1" stop-color="#e0740f"/></linearGradient>
<g id="chev"><path d="M-14 -9.6 L-10 -13.1 L2.4 0 L-10 12.9 L-14 9.4 L-5 0 Z M-1.6 -9.6 L2.4 -13.1 L14.9 0 L2.4 12.9 L-1.6 9.4 L7.4 0 Z" fill="#a7c800"/></g>
<g id="panlogo">
 <circle r="52.4" fill="#2b4394"/>
 <circle r="41.2" fill="url(#ringg)"/>
 <circle r="36.6" fill="#fff"/>
 <path d="M-20.8 -15.8 A28.3 28.3 0 0 1 25.6 -15.8" fill="none" stroke="#2b4394" stroke-width="2.8"/>
 <path d="M-25.5 16.3 A27.6 27.6 0 0 0 20.3 16.3" fill="none" stroke="#2b4394" stroke-width="3"/>
 <text transform="translate(-33.30,12.00) scale(0.9537,1)" font-family='"Liberation Sans", sans-serif' font-size="33.56" font-weight="bold" font-style="italic" fill="#2b4394"  stroke="#2b4394" stroke-width="2.4" stroke-linejoin="round"  >PAN</text>
</g>
</defs></svg>
<div style="position:absolute;left:168.5px;top:483.5px;width:384.5px;height:38px;background:linear-gradient(#c9c9c9 0,#dcdcdc 4px,#e4e4e4 9px,#e3e3e3 100%);border-radius:0 0 9px 0;box-shadow:2px 3px 4px rgba(0,0,0,.30)"></div>
<div style="position:absolute;left:168.5px;top:423.5px;width:490px;height:64px;background:linear-gradient(90deg,#263d88,#1f70b9);border-radius:0 0 21px 0;box-shadow:2px 4px 6px rgba(0,0,0,.30)"></div>
<svg style="left:673.3000000000001px;top:421.3px" width="58.6" height="58.6" viewBox="-29.3 -29.3 58.6 58.6"><circle r="25.3" fill="url(#arrg)" stroke="#dcdcdc" stroke-width="4.0"/><use href="#chev" transform="translate(0.2,0) scale(1.0)"/></svg>
<div style="position:absolute;left:747px;top:420.5px;width:245px;height:70px;background:linear-gradient(90deg,#263d88,#1f70b9);border-radius:0 0 15px 0;box-shadow:2px 4px 5px rgba(0,0,0,.28)"></div>
<div style="position:absolute;left:168.5px;top:610px;width:384.5px;height:38px;background:linear-gradient(#c9c9c9 0,#dcdcdc 4px,#e4e4e4 9px,#e3e3e3 100%);border-radius:0 0 9px 0;box-shadow:2px 3px 4px rgba(0,0,0,.30)"></div>
<div style="position:absolute;left:168.5px;top:550px;width:490px;height:64px;background:linear-gradient(90deg,#5c0802,#bb1922);border-radius:0 0 21px 0;box-shadow:2px 4px 6px rgba(0,0,0,.30)"></div>
<svg style="left:673.3000000000001px;top:547.8000000000001px" width="58.6" height="58.6" viewBox="-29.3 -29.3 58.6 58.6"><circle r="25.3" fill="url(#arrg)" stroke="#dcdcdc" stroke-width="4.0"/><use href="#chev" transform="translate(0.2,0) scale(1.0)"/></svg>
<div style="position:absolute;left:747px;top:547px;width:245px;height:70px;background:linear-gradient(90deg,#5c0802,#bb1922);border-radius:0 0 15px 0;box-shadow:2px 4px 5px rgba(0,0,0,.28)"></div>
<div style="position:absolute;left:168.5px;top:735px;width:384.5px;height:38px;background:linear-gradient(#c9c9c9 0,#dcdcdc 4px,#e4e4e4 9px,#e3e3e3 100%);border-radius:0 0 9px 0;box-shadow:2px 3px 4px rgba(0,0,0,.30)"></div>
<div style="position:absolute;left:168.5px;top:675px;width:490px;height:64px;background:linear-gradient(90deg,#df9400,#d96711);border-radius:0 0 21px 0;box-shadow:2px 4px 6px rgba(0,0,0,.30)"></div>
<svg style="left:673.3000000000001px;top:672.8000000000001px" width="58.6" height="58.6" viewBox="-29.3 -29.3 58.6 58.6"><circle r="25.3" fill="url(#arrg)" stroke="#dcdcdc" stroke-width="4.0"/><use href="#chev" transform="translate(0.2,0) scale(1.0)"/></svg>
<div style="position:absolute;left:747px;top:672px;width:245px;height:70px;background:linear-gradient(90deg,#df9400,#d96711);border-radius:0 0 15px 0;box-shadow:2px 4px 5px rgba(0,0,0,.28)"></div>
<svg style="left:0;top:400px" width="200" height="400" viewBox="0 400 200 400"><use href="#panlogo" transform="translate(91.5,468.8)"/></svg>
<svg style="left:0;top:400px" width="200" height="400" viewBox="0 400 200 400">
<g transform="translate(92,595.3)">
 <circle r="53" fill="url(#morg)"/>
 <circle r="41.4" fill="url(#ringg)"/>
 <circle r="36.4" fill="url(#morg2)"/>
</g>
<g transform="translate(92,720.8)">
 <circle r="53" fill="url(#mcg)"/>
 <circle r="41.2" fill="url(#ringg)"/>
 <circle r="37.2" fill="url(#mcg2)"/>
 <path d="M-31.3 -17.6 L-8.6 -17.1 L-5.5 -10 L0.8 -9.7 L5.5 -10 L7.2 -17.1 L29.3 -17.6 L21.9 -12.9 L19 -12.5 L19.8 -11 L14.6 -7.6 L12 -7.4 L9.3 -4.4 L0.8 0.8 L-1.3 0.8 L-9.7 -4.4 L-12.5 -7.4 L-16 -7.6 L-21 -11 L-20.5 -12.5 L-23.4 -12.9 Z M-4.4 -9.5 Q-7.5 -14 -6 -17.6 Q-3.4 -20 1.9 -18.7 Q4.2 -17 3.6 -13.8 Q3 -11 0.8 -9.5 Z" fill="#fff"/><circle cx="-0.8" cy="-14.6" r="1.9" fill="#e48a0c"/>
</g>
</svg>
<div style="position:absolute;left:167px;top:815px;width:274px;height:33.5px;background:#e3e3e3;border-radius:0 0 11px 0;box-shadow:2px 3px 4px rgba(0,0,0,.30)"></div>
<svg style="left:461.5px;top:812.5px" width="37.0" height="37.0" viewBox="-18.5 -18.5 37.0 37.0"><circle r="15.291208791208792" fill="url(#arrg)" stroke="#dcdcdc" stroke-width="2.4175824175824174"/><use href="#chev" transform="translate(0.12087912087912088,0) scale(0.6043956043956044)"/></svg>
<div style="position:absolute;left:515px;top:814.8px;width:140.60000000000002px;height:33.60000000000002px;background:#e3e3e3;border-radius:0 0 11px 0;box-shadow:2px 3px 4px rgba(0,0,0,.30)"></div>
<div style="position:absolute;left:170.3px;top:892.5px;width:272.3px;height:33.5px;background:#e3e3e3;border-radius:0 0 11px 0;box-shadow:2px 3px 4px rgba(0,0,0,.30)"></div>
<svg style="left:463.7px;top:890.8px" width="37.0" height="37.0" viewBox="-18.5 -18.5 37.0 37.0"><circle r="15.291208791208792" fill="url(#arrg)" stroke="#dcdcdc" stroke-width="2.4175824175824174"/><use href="#chev" transform="translate(0.12087912087912088,0) scale(0.6043956043956044)"/></svg>
<div style="position:absolute;left:518px;top:891.7px;width:141px;height:34.0px;background:#e3e3e3;border-radius:0 0 11px 0;box-shadow:2px 3px 4px rgba(0,0,0,.30)"></div>
<div style="position:absolute;left:170.3px;top:969px;width:272.3px;height:33.5px;background:#e3e3e3;border-radius:0 0 11px 0;box-shadow:2px 3px 4px rgba(0,0,0,.30)"></div>
<svg style="left:463.7px;top:967.0px" width="37.0" height="37.0" viewBox="-18.5 -18.5 37.0 37.0"><circle r="15.291208791208792" fill="url(#arrg)" stroke="#dcdcdc" stroke-width="2.4175824175824174"/><use href="#chev" transform="translate(0.12087912087912088,0) scale(0.6043956043956044)"/></svg>
<div style="position:absolute;left:518px;top:969px;width:141px;height:34px;background:#e3e3e3;border-radius:0 0 11px 0;box-shadow:2px 3px 4px rgba(0,0,0,.30)"></div>
<svg style="left:0;top:780px" width="200" height="280" viewBox="0 780 200 280">
<defs>
<linearGradient id="pvg" x1="0" x2="1" y1="0" y2="0"><stop offset="0" stop-color="#5a9a2a"/><stop offset="1" stop-color="#1e9c30"/></linearGradient>
<linearGradient id="pvg2" x1="0" x2="1"><stop offset="0" stop-color="#6e9a2e"/><stop offset="1" stop-color="#16a22e"/></linearGradient>
<linearGradient id="ptg" x1="0" x2="1"><stop offset="0" stop-color="#d00a0e"/><stop offset="1" stop-color="#dc1418"/></linearGradient>
<clipPath id="pric"><circle cx="91.5" cy="844" r="20.5"/></clipPath>
</defs>
<circle cx="91.5" cy="844" r="28.8" fill="#0b8a3f"/>
<circle cx="91.5" cy="844" r="22.5" fill="url(#ringg)"/>
<g clip-path="url(#pric)">
 <rect x="60" y="820" width="25" height="50" fill="#0d8f45"/>
 <rect x="85" y="820" width="13.1" height="50" fill="#fff"/>
 <rect x="98.1" y="820" width="25" height="50" fill="#e01020"/>
</g>
<path d="M75.3 852.4 V835.5 H80 Q83.6 835.5 83.6 840.5 Q83.6 845.5 80 845.5 H79.3 V852.4 Z M79.3 838.5 V842.5 H79.8 Q80.7 842.5 80.7 840.5 Q80.7 838.5 79.8 838.5 Z" fill="#fff" fill-rule="evenodd"/>
<path d="M87.5 844.3 V827.7 H92.6 Q96.3 827.7 96.3 832 Q96.3 834.8 94.4 835.8 L96.4 844.3 H93.2 L91.6 836.6 H91 V844.3 Z M91 830.4 V834 H92.2 Q93.2 834 93.2 832.2 Q93.2 830.4 92.2 830.4 Z" fill="#111" fill-rule="evenodd"/>
<rect x="101.6" y="835.5" width="4" height="17" fill="#fff"/>
<circle cx="91.8" cy="919.7" r="29" fill="url(#pvg2)"/>
<circle cx="91.8" cy="919.7" r="22.5" fill="url(#ringg)"/>
<circle cx="91.8" cy="919.7" r="20.5" fill="url(#pvg)"/>
<path d="M83.1 909.9 L88.3 909.9 L91.6 919 L95.5 909.9 L99.5 909.9 L93.8 923.6 L89.4 923.6 Z" fill="#fff"/>
<path d="M80.6 919.2 Q90 915.5 102.5 915.2 Q92 917.8 86 920.2 Z" fill="#167a3c"/>
<path d="M89 907.5 Q93 904.5 98.5 905 Q99.5 906.5 98.8 908 Q94 906.8 91 909 Z" fill="#e8b400"/>
<path d="M95.5 905.2 Q98 905 98.8 908 L96.5 907.2 Z" fill="#d4312a"/>
<ellipse cx="91" cy="912.3" rx="2.8" ry="2.4" fill="#1a1a1a"/>
<circle cx="91.2" cy="909.4" r="2.1" fill="#f2c200"/>
<circle cx="91.5" cy="996.6" r="28.8" fill="#d60a10"/>
<circle cx="91.5" cy="996.6" r="22.5" fill="url(#ringg)"/>
<circle cx="91.5" cy="996.6" r="20.3" fill="url(#ptg)"/>
<path d="M90.6 983 L91.8 986.3 L95.2 986.4 L92.5 988.5 L93.5 991.8 L90.6 989.9 L87.7 991.8 L88.7 988.5 L86 986.4 L89.4 986.3 Z" fill="#e6d61e"/>
</svg>
<svg style="left:150px;top:1035px" width="310" height="40" viewBox="150 1035 310 40">
<defs><linearGradient id="qg" x1="0" x2="1" y1="0" y2="1"><stop offset="0" stop-color="#a0a0a0"/><stop offset="1" stop-color="#5a5a5a"/></linearGradient></defs>
<circle cx="171" cy="1055" r="11.6" fill="#6aa84a"/>
<circle cx="171" cy="1055" r="9" fill="none" stroke="#9ccb7e" stroke-width="1"/>
<circle cx="171" cy="1052" r="3.2" fill="#fff"/>
<path d="M164.8 1061.5 Q165 1056.5 171 1056.5 Q177 1056.5 177.2 1061.5 Z" fill="#fff"/>
<circle cx="433.7" cy="1055" r="11.8" fill="url(#qg)"/>
<circle cx="433.7" cy="1055" r="9.2" fill="none" stroke="#bdbdbd" stroke-width="1"/>
</svg>
<div style="position:absolute;left:192px;top:1045.3px;width:137.4px;height:21px;background:#6aa84a;border-radius:0 0 6px 0;box-shadow:1px 2px 3px rgba(0,0,0,.28)"></div>
<div style="position:absolute;left:453.6px;top:1045.3px;width:137.2px;height:21px;background:linear-gradient(90deg,#525252,#a8a8a8);border-radius:0 0 6px 0;box-shadow:1px 2px 3px rgba(0,0,0,.28)"></div>
<svg style="left:700px;top:850px" width="300" height="220" viewBox="700 850 300 220">
<defs><linearGradient id="mapg" x1="0" x2="1"><stop offset="0" stop-color="#233f8e"/><stop offset="1" stop-color="#1f70b9"/></linearGradient></defs>
<path d="M858.4 862.9 L861.2 871.1 L868.3 875.8 L870.6 880.5 L884.7 884.0 L890.5 887.5 L890.5 899.2 L904.6 898.0 L911.6 898.0 L916.3 906.2 L919.8 912.1 L920.3 925.0 L915.1 927.3 L912.8 930.9 L917.5 935.5 L926.9 939.1 L936.2 943.7 L944.4 950.8 L949.1 954.3 L949.1 964.8 L942.1 967.2 L944.4 974.2 L953.8 976.6 L953.8 982.4 L936.2 985.9 L917.5 993.0 L901.1 1004.7 L894.0 1021.1 L880.0 1028.1 L868.3 1035.1 L861.2 1042.2 L851.9 1044.5 L840.1 1037.5 L828.4 1032.8 L814.4 1028.1 L800.3 1021.1 L786.2 1016.4 L776.9 1021.1 L769.8 1024.6 L762.8 1021.1 L753.4 1012.9 L747.6 1004.7 L744.1 995.3 L748.7 985.9 L755.8 971.9 L765.2 955.5 L774.5 943.7 L780.4 939.1 L786.2 922.7 L789.8 913.3 L785.1 906.2 L785.1 900.4 L800.3 899.2 L816.7 898.0 L826.1 894.5 L826.1 886.3 L842.5 884.0 L847.2 879.3 L854.2 877.0 L856.6 866.4 Z" fill="url(#mapg)"/>
<g transform="translate(853.3,960.7) scale(0.37)">
 <circle r="54" fill="#dcdcdc" opacity="0.8"/>
 <circle r="50" fill="#fff"/>
 <use href="#panmini"/>
</g>
</svg>
<svg width="0" height="0" style="left:0;top:0"><defs><g id="panmini">
 <path d="M-27 -22 A35.5 35.5 0 0 1 28.3 -22" fill="none" stroke="#2b4394" stroke-width="4.6"/>
 <path d="M-30.9 20.5 A35 35 0 0 0 24.6 22.4" fill="none" stroke="#2b4394" stroke-width="4.6"/>
 <text transform="translate(-40.13,15.30) scale(0.9602,1)" font-family='"Liberation Sans", sans-serif' font-size="41.67" font-weight="bold" font-style="italic" fill="#2b4394"  stroke="#2b4394" stroke-width="3.0" stroke-linejoin="round"  >PAN</text>
</g></defs></svg>
<div style="position:absolute;left:0px;top:1096px;width:1024px;height:50.5px;background:#006dc0"></div>
<svg style="left:0;top:1150px" width="1024" height="240" viewBox="0 1150 1024 240">
<line x1="79" y1="1199.7" x2="971.6" y2="1199.7" stroke="#e4e4e4" stroke-width="1.1"/>
<line x1="72" y1="1199.7" x2="75" y2="1199.7" stroke="#c5d8b0" stroke-width="1.2"/>
<line x1="79" y1="1217" x2="971.6" y2="1217" stroke="#e4e4e4" stroke-width="1.1"/>
<line x1="72" y1="1217" x2="75" y2="1217" stroke="#c5d8b0" stroke-width="1.2"/>
<line x1="79" y1="1233.7" x2="971.6" y2="1233.7" stroke="#e4e4e4" stroke-width="1.1"/>
<line x1="72" y1="1233.7" x2="75" y2="1233.7" stroke="#c5d8b0" stroke-width="1.2"/>
<line x1="79" y1="1250.8" x2="971.6" y2="1250.8" stroke="#e4e4e4" stroke-width="1.1"/>
<line x1="72" y1="1250.8" x2="75" y2="1250.8" stroke="#c5d8b0" stroke-width="1.2"/>
<line x1="79" y1="1267.5" x2="971.6" y2="1267.5" stroke="#e4e4e4" stroke-width="1.1"/>
<line x1="72" y1="1267.5" x2="75" y2="1267.5" stroke="#c5d8b0" stroke-width="1.2"/>
<line x1="79" y1="1284.3" x2="971.6" y2="1284.3" stroke="#e4e4e4" stroke-width="1.1"/>
<line x1="72" y1="1284.3" x2="75" y2="1284.3" stroke="#c5d8b0" stroke-width="1.2"/>
<line x1="79" y1="1300.8" x2="971.6" y2="1300.8" stroke="#e4e4e4" stroke-width="1.1"/>
<line x1="72" y1="1300.8" x2="75" y2="1300.8" stroke="#c5d8b0" stroke-width="1.2"/>
<line x1="79" y1="1317.8" x2="971.6" y2="1317.8" stroke="#e4e4e4" stroke-width="1.1"/>
<line x1="72" y1="1317.8" x2="75" y2="1317.8" stroke="#c5d8b0" stroke-width="1.2"/>
<line x1="79" y1="1334.5" x2="971.6" y2="1334.5" stroke="#e4e4e4" stroke-width="1.1"/>
<line x1="72" y1="1334.5" x2="75" y2="1334.5" stroke="#c5d8b0" stroke-width="1.2"/>
<line x1="79" y1="1351.8" x2="971.6" y2="1351.8" stroke="#e4e4e4" stroke-width="1.1"/>
<line x1="72" y1="1351.8" x2="75" y2="1351.8" stroke="#c5d8b0" stroke-width="1.2"/>
<line x1="79" y1="1369.3" x2="971.6" y2="1369.3" stroke="#e4e4e4" stroke-width="1.1"/>
<line x1="72" y1="1369.3" x2="75" y2="1369.3" stroke="#c5d8b0" stroke-width="1.2"/>
<polyline points="153.4,1241.6 302.5,1238 450.6,1244.4 599.6,1243 748,1244.4 897.7,1242.5" fill="none" stroke="#c5161d" stroke-width="2.2" stroke-linejoin="round"/>
<circle cx="153.4" cy="1241.6" r="2.2" fill="#c8161d"/>
<circle cx="302.5" cy="1238" r="2.2" fill="#c8161d"/>
<circle cx="450.6" cy="1244.4" r="2.2" fill="#c8161d"/>
<circle cx="599.6" cy="1243" r="2.2" fill="#c8161d"/>
<circle cx="748" cy="1244.4" r="2.2" fill="#c8161d"/>
<circle cx="897.7" cy="1242.5" r="2.2" fill="#c8161d"/>
<polyline points="153.4,1269 302.5,1267 450.6,1270 599.6,1273.4 748,1269 897.7,1271.7" fill="none" stroke="#c5161d" stroke-width="2.2" stroke-linejoin="round"/>
<circle cx="153.4" cy="1269" r="2.2" fill="#c8161d"/>
<circle cx="302.5" cy="1267" r="2.2" fill="#c8161d"/>
<circle cx="450.6" cy="1270" r="2.2" fill="#c8161d"/>
<circle cx="599.6" cy="1273.4" r="2.2" fill="#c8161d"/>
<circle cx="748" cy="1269" r="2.2" fill="#c8161d"/>
<circle cx="897.7" cy="1271.7" r="2.2" fill="#c8161d"/>
<polyline points="153.4,1347 302.5,1348.3 450.6,1351 599.6,1349.7 748,1348.3 897.7,1350.5" fill="none" stroke="#c5161d" stroke-width="2.2" stroke-linejoin="round"/>
<circle cx="153.4" cy="1347" r="2.2" fill="#c8161d"/>
<circle cx="302.5" cy="1348.3" r="2.2" fill="#c8161d"/>
<circle cx="450.6" cy="1351" r="2.2" fill="#c8161d"/>
<circle cx="599.6" cy="1349.7" r="2.2" fill="#c8161d"/>
<circle cx="748" cy="1348.3" r="2.2" fill="#c8161d"/>
<circle cx="897.7" cy="1350.5" r="2.2" fill="#c8161d"/>
<g transform="translate(946.5,1218.8) scale(0.435)"><use href="#panlogo"/></g>
<g transform="translate(938.4,1264.6) scale(0.34)"><circle r="53" fill="url(#morg)"/><circle r="41.4" fill="url(#ringg)"/><circle r="36.4" fill="url(#morg2)"/><text transform="translate(-25.45,3.60) scale(1.0001,1)" font-family='"Liberation Sans", sans-serif' font-size="13.55" font-weight="bold" font-style="normal" fill="#fff"  stroke="#fff" stroke-width="0.8" stroke-linejoin="round"  >morena</text></g>
<g transform="translate(935.6,1355.5) scale(0.345)"><circle r="53" fill="url(#mcg)"/><circle r="41.2" fill="url(#ringg)"/><circle r="37.2" fill="url(#mcg2)"/>
<path d="M-31.3 -17.6 L-8.6 -17.1 L-5.5 -10 L0.8 -9.7 L5.5 -10 L7.2 -17.1 L29.3 -17.6 L21.9 -12.9 L19 -12.5 L19.8 -11 L14.6 -7.6 L12 -7.4 L9.3 -4.4 L0.8 0.8 L-1.3 0.8 L-9.7 -4.4 L-12.5 -7.4 L-16 -7.6 L-21 -11 L-20.5 -12.5 L-23.4 -12.9 Z M-4.4 -9.5 Q-7.5 -14 -6 -17.6 Q-3.4 -20 1.9 -18.7 Q4.2 -17 3.6 -13.8 Q3 -11 0.8 -9.5 Z" fill="#fff"/><circle cx="-0.8" cy="-14.6" r="1.9" fill="#e48a0c"/>
<rect x="-22" y="5" width="44" height="5" fill="#fff" opacity="0.8"/><rect x="-27" y="12" width="54" height="7" fill="#fff" opacity="0.85"/></g>
<line x1="971.6" y1="1199.7" x2="971.6" y2="1369.3" stroke="#f0f0f0" stroke-width="1"/>
</svg>
<svg style="left:80px;top:1470px" width="140" height="40" viewBox="80 1470 140 40">
<defs><linearGradient id="igg" x1="0" y1="1" x2="1" y2="0"><stop offset="0" stop-color="#f9a825"/><stop offset="0.5" stop-color="#e1306c"/><stop offset="1" stop-color="#833ab4"/></linearGradient></defs>
<circle cx="107" cy="1494" r="10" fill="#1b74c5"/>
<path d="M108.6 1504 V1495.5 H111.3 L111.7 1492.4 H108.6 V1490.6 Q108.6 1489.5 109.9 1489.5 H111.8 V1486.8 Q110.8 1486.6 109.4 1486.6 Q105.6 1486.6 105.6 1490.3 V1492.4 H103 V1495.5 H105.6 V1504 Z" fill="#fff"/>
<circle cx="152" cy="1494" r="10" fill="url(#igg)"/>
<rect x="146.5" y="1488.5" width="11" height="11" rx="3" fill="none" stroke="#fff" stroke-width="1.6"/>
<circle cx="152" cy="1494" r="2.6" fill="none" stroke="#fff" stroke-width="1.5"/>
<circle cx="155.3" cy="1490.8" r="0.8" fill="#fff"/>
<circle cx="197" cy="1494" r="10" fill="#1d96d6"/>
<path d="M203 1489.6 Q202.2 1490 201.3 1490.1 Q202.3 1489.5 202.6 1488.5 Q201.7 1489 200.7 1489.2 Q199.8 1488.3 198.5 1488.3 Q196 1488.3 196 1491 Q196 1491.4 196.1 1491.7 Q192.4 1491.5 190.2 1488.9 Q189.2 1490.8 191.1 1492.4 Q190.4 1492.4 189.8 1492.1 Q189.8 1494.2 191.9 1494.8 Q191.2 1495 190.6 1494.9 Q191.2 1496.7 193.2 1496.8 Q191.5 1498.1 189.3 1497.9 Q191.3 1499.2 193.7 1499.2 Q201.3 1499.2 201.5 1491.3 Q202.4 1490.6 203 1489.6 Z" fill="#fff"/>
</svg>
<svg style="left:770px;top:1495px" width="24" height="20" viewBox="770 1495 24 20">
<circle cx="781.6" cy="1504.7" r="6.7" fill="#25a244"/>
<path d="M779 1502 Q779.5 1501 780.2 1501.3 L781 1503 Q780.7 1503.6 780.4 1503.9 Q781.2 1505.6 782.6 1506.3 Q783 1506 783.4 1505.6 L785 1506.4 Q785 1507.5 783.8 1507.8 Q781.5 1508 779.6 1505.5 Q778.5 1503.7 779 1502 Z" fill="#fff"/>
<path d="M775.8 1510.8 L777 1507.6" stroke="#25a244" stroke-width="2.2"/>
</svg>
<div style="position:absolute;left:0px;top:1537px;width:1024px;height:26px;background:#006dc0"></div>
<svg style="left:0;top:0" width="1024" height="1563" viewBox="0 0 1024 1563">
<text transform="translate(99.80,62.40) scale(1.2172,1)" font-family='"Liberation Sans", sans-serif' font-size="21.05" font-weight="bold" font-style="normal" fill="#3a3a39"  stroke="#3a3a39" stroke-width="1.2" stroke-linejoin="round" vector-effect="non-scaling-stroke" >DEMOSCOPIA</text>
<text transform="translate(99.85,84.80) scale(1.1897,1)" font-family='"Liberation Sans", sans-serif' font-size="20.76" font-weight="bold" font-style="normal" fill="#3a3a39"  stroke="#3a3a39" stroke-width="1.2" stroke-linejoin="round" vector-effect="non-scaling-stroke" >DIGITAL</text>
<text transform="translate(100.57,98.75) scale(1.0947,1)" font-family='"Liberation Sans", sans-serif' font-size="9.96" font-weight="bold" font-style="normal" fill="#5a5a5a"  stroke="#5a5a5a" stroke-width="0.5" stroke-linejoin="round" vector-effect="non-scaling-stroke" >ESTUDIOS DE OPINIÓN PÚBLICA</text>
<text transform="translate(348.90,81.70) scale(1.0712,1)" font-family='"Liberation Sans", sans-serif' font-size="26.88" font-weight="bold" font-style="normal" fill="#fff" letter-spacing="0.81" stroke="#fff" stroke-width="1.6" stroke-linejoin="round" vector-effect="non-scaling-stroke" >21 DE ENERO DE 2026</text>
<text transform="translate(809.09,76.50) scale(0.7832,1)" font-family='"Liberation Serif", serif' font-size="25.14" font-weight="bold" font-style="normal" fill="#111"  stroke="#111" stroke-width="2.0" stroke-linejoin="round" vector-effect="non-scaling-stroke" >L</text>
<text transform="translate(822.40,76.50) scale(0.8864,1)" font-family='"Liberation Serif", serif' font-size="35.20" font-weight="bold" font-style="normal" fill="#111"  stroke="#111" stroke-width="2.0" stroke-linejoin="round" vector-effect="non-scaling-stroke" >a</text>
<text transform="translate(837.16,83.40) scale(1.1710,1)" font-family='"Liberation Serif", serif' font-size="50.74" font-weight="bold" font-style="normal" fill="#111"  stroke="#111" stroke-width="2.2" stroke-linejoin="round" vector-effect="non-scaling-stroke" >J</text>
<text transform="translate(866.92,76.40) scale(1.0094,1)" font-family='"Liberation Serif", serif' font-size="37.40" font-weight="bold" font-style="normal" fill="#111"  stroke="#111" stroke-width="2.2" stroke-linejoin="round" vector-effect="non-scaling-stroke" >ornada</text>
<text transform="translate(920.25,88.00) scale(0.9700,1)" font-family='"Liberation Serif", serif' font-size="9.14" font-weight="normal" font-style="normal" fill="#c4161c"   >Estado de México</text>
<text transform="translate(142.07,212.50) scale(1.0237,1)" font-family='"Liberation Sans", sans-serif' font-size="83.20" font-weight="bold" font-style="normal" fill="#106cbe" letter-spacing="5.82" stroke="#106cbe" stroke-width="4" stroke-linejoin="round" vector-effect="non-scaling-stroke" >RUMBO AL 2027</text>
<text transform="translate(87.77,284.00) scale(0.9841,1)" font-family='"Liberation Sans", sans-serif' font-size="36.27" font-weight="bold" font-style="normal" fill="#fff" letter-spacing="1.09" stroke="#fff" stroke-width="2.0" stroke-linejoin="round" vector-effect="non-scaling-stroke" >PREFERENCIAS ELECTORALES POR PARTIDO</text>
<text transform="translate(213.99,334.35) scale(0.9761,1)" font-family='"Liberation Sans", sans-serif' font-size="23.47" font-weight="bold" font-style="normal" fill="#2b2b2b"  stroke="#2b2b2b" stroke-width="0.7" stroke-linejoin="round" vector-effect="non-scaling-stroke" >Si hoy fueran las elecciones para elegir gobernador(a),</text>
<text transform="translate(241.25,372.45) scale(1.2028,1)" font-family='"Liberation Sans", sans-serif' font-size="36.34" font-weight="bold" font-style="normal" fill="#111"  stroke="#111" stroke-width="2.6" stroke-linejoin="round" vector-effect="non-scaling-stroke" >¿Por cuál partido votaría?</text>
<text transform="translate(277.57,398.30) scale(1.3385,1)" font-family='"Liberation Sans", sans-serif' font-size="14.01" font-weight="normal" font-style="normal" fill="#828282"  stroke="#828282" stroke-width="0.9" stroke-linejoin="round" vector-effect="non-scaling-stroke" >(Medición de partidos políticos SIN alianzas/coaliciones)</text>
<text transform="translate(189.84,476.20) scale(1.2377,1)" font-family='"Liberation Sans", sans-serif' font-size="25.32" font-weight="bold" font-style="normal" fill="#fff"  stroke="#fff" stroke-width="1.6" stroke-linejoin="round" vector-effect="non-scaling-stroke" >PAN</text>
<text transform="translate(192.37,512.05) scale(1.0500,1)" font-family='"Liberation Sans", sans-serif' font-size="16.50" font-weight="bold" font-style="normal" fill="#333" letter-spacing="0.49" stroke="#333" stroke-width="0.9" stroke-linejoin="round" vector-effect="non-scaling-stroke" >PARTIDO ACCIÓN NACIONAL</text>
<text transform="translate(804.93,472.00) scale(1.0093,1)" font-family='"Liberation Sans", sans-serif' font-size="48.78" font-weight="bold" font-style="normal" fill="#fff" letter-spacing="1.95" stroke="#fff" stroke-width="2.6" stroke-linejoin="round" vector-effect="non-scaling-stroke" >37.5%</text>
<text transform="translate(189.90,603.00) scale(1.2406,1)" font-family='"Liberation Sans", sans-serif' font-size="24.46" font-weight="bold" font-style="normal" fill="#fff"  stroke="#fff" stroke-width="1.6" stroke-linejoin="round" vector-effect="non-scaling-stroke" >MORENA</text>
<text transform="translate(190.50,637.05) scale(1.1100,1)" font-family='"Liberation Sans", sans-serif' font-size="13.65" font-weight="bold" font-style="normal" fill="#333" letter-spacing="0.41" stroke="#333" stroke-width="0.9" stroke-linejoin="round" vector-effect="non-scaling-stroke" >MOVIMIENTO DE REGENERACIÓN NACIONAL</text>
<text transform="translate(793.67,598.30) scale(1.1320,1)" font-family='"Liberation Sans", sans-serif' font-size="45.94" font-weight="bold" font-style="normal" fill="#fff" letter-spacing="1.84" stroke="#fff" stroke-width="2.6" stroke-linejoin="round" vector-effect="non-scaling-stroke" >28.7%</text>
<text transform="translate(189.92,728.00) scale(1.2317,1)" font-family='"Liberation Sans", sans-serif' font-size="24.46" font-weight="bold" font-style="normal" fill="#fff"  stroke="#fff" stroke-width="1.6" stroke-linejoin="round" vector-effect="non-scaling-stroke" >MC</text>
<text transform="translate(190.35,764.05) scale(1.1464,1)" font-family='"Liberation Sans", sans-serif' font-size="15.36" font-weight="bold" font-style="normal" fill="#333" letter-spacing="0.46" stroke="#333" stroke-width="0.9" stroke-linejoin="round" vector-effect="non-scaling-stroke" >MOVIMIENTO CIUDADANO</text>
<text transform="translate(805.48,723.30) scale(1.1246,1)" font-family='"Liberation Sans", sans-serif' font-size="45.94" font-weight="bold" font-style="normal" fill="#fff" letter-spacing="1.84" stroke="#fff" stroke-width="2.6" stroke-linejoin="round" vector-effect="non-scaling-stroke" >5.4%</text>
<text transform="translate(65.33,598.80) scale(0.9750,1)" font-family='"Liberation Sans", sans-serif' font-size="14.31" font-weight="bold" font-style="normal" fill="#fff"  stroke="#fff" stroke-width="0.4" stroke-linejoin="round" vector-effect="non-scaling-stroke" >morena</text>
<text transform="translate(66.77,730.55) scale(1.1215,1)" font-family='"Liberation Sans", sans-serif' font-size="6.83" font-weight="bold" font-style="normal" fill="#fff"  stroke="#fff" stroke-width="0.5" stroke-linejoin="round" vector-effect="non-scaling-stroke" >MOVIMIENTO</text>
<text transform="translate(62.25,738.95) scale(1.0739,1)" font-family='"Liberation Sans", sans-serif' font-size="8.82" font-weight="bold" font-style="normal" fill="#fff"  stroke="#fff" stroke-width="0.7" stroke-linejoin="round" vector-effect="non-scaling-stroke" >CIUDADANO</text>
<text transform="translate(179.34,836.15) scale(1.1177,1)" font-family='"Liberation Sans", sans-serif' font-size="15.93" font-weight="bold" font-style="normal" fill="#333"  stroke="#333" stroke-width="0.9" stroke-linejoin="round" vector-effect="non-scaling-stroke" >PRI</text>
<text transform="translate(175.62,864.30) scale(1.1377,1)" font-family='"Liberation Sans", sans-serif' font-size="9.53" font-weight="bold" font-style="normal" fill="#333" letter-spacing="0.38" stroke="#333" stroke-width="0.6" stroke-linejoin="round" vector-effect="non-scaling-stroke" >PARTIDO REVOLUCIONARIO INSTITUCIONAL</text>
<text transform="translate(554.61,840.50) scale(1.0483,1)" font-family='"Liberation Sans", sans-serif' font-size="23.32" font-weight="bold" font-style="normal" fill="#333" letter-spacing="0.70" stroke="#333" stroke-width="1.6" stroke-linejoin="round" vector-effect="non-scaling-stroke" >3.1%</text>
<text transform="translate(182.51,913.95) scale(1.0626,1)" font-family='"Liberation Sans", sans-serif' font-size="17.07" font-weight="bold" font-style="normal" fill="#333"  stroke="#333" stroke-width="0.9" stroke-linejoin="round" vector-effect="non-scaling-stroke" >PVEM</text>
<text transform="translate(178.63,942.20) scale(1.0543,1)" font-family='"Liberation Sans", sans-serif' font-size="10.24" font-weight="bold" font-style="normal" fill="#333" letter-spacing="0.41" stroke="#333" stroke-width="0.6" stroke-linejoin="round" vector-effect="non-scaling-stroke" >PARTIDO VERDE ECOLOGISTA DE MÉXICO</text>
<text transform="translate(557.44,917.90) scale(1.0928,1)" font-family='"Liberation Sans", sans-serif' font-size="22.76" font-weight="bold" font-style="normal" fill="#333" letter-spacing="0.68" stroke="#333" stroke-width="1.6" stroke-linejoin="round" vector-effect="non-scaling-stroke" >1.7%</text>
<text transform="translate(182.61,992.05) scale(0.9714,1)" font-family='"Liberation Sans", sans-serif' font-size="17.07" font-weight="bold" font-style="normal" fill="#333"  stroke="#333" stroke-width="0.9" stroke-linejoin="round" vector-effect="non-scaling-stroke" >PT</text>
<text transform="translate(178.63,1018.40) scale(1.0680,1)" font-family='"Liberation Sans", sans-serif' font-size="10.10" font-weight="bold" font-style="normal" fill="#333" letter-spacing="0.40" stroke="#333" stroke-width="0.6" stroke-linejoin="round" vector-effect="non-scaling-stroke" >PARTIDO DEL TRABAJO</text>
<text transform="translate(560.04,995.70) scale(1.0559,1)" font-family='"Liberation Sans", sans-serif' font-size="23.47" font-weight="bold" font-style="normal" fill="#333" letter-spacing="0.70" stroke="#333" stroke-width="1.6" stroke-linejoin="round" vector-effect="non-scaling-stroke" >1.3%</text>
<text transform="translate(78.80,932.80) scale(0.8423,1)" font-family='"Liberation Sans", sans-serif' font-size="8.96" font-weight="bold" font-style="normal" fill="#fff"  stroke="#fff" stroke-width="0.8" stroke-linejoin="round" vector-effect="non-scaling-stroke" >VERDE</text>
<text transform="translate(78.58,1007.90) scale(0.9340,1)" font-family='"Liberation Sans", sans-serif' font-size="20.34" font-weight="bold" font-style="normal" fill="#e6d61e"  stroke="#e6d61e" stroke-width="1.2" stroke-linejoin="round" vector-effect="non-scaling-stroke" >PT</text>
<text transform="translate(431.09,1059.10) scale(0.8586,1)" font-family='"Liberation Sans", sans-serif' font-size="11.66" font-weight="bold" font-style="normal" fill="#fff"  stroke="#fff" stroke-width="0.8" stroke-linejoin="round" vector-effect="non-scaling-stroke" >?</text>
<text transform="translate(197.38,1058.75) scale(1.0255,1)" font-family='"Liberation Sans", sans-serif' font-size="8.39" font-weight="bold" font-style="normal" fill="#fff"  stroke="#fff" stroke-width="0.5" stroke-linejoin="round" vector-effect="non-scaling-stroke" >OTROS</text>
<text transform="translate(461.71,1058.75) scale(1.0588,1)" font-family='"Liberation Sans", sans-serif' font-size="8.39" font-weight="bold" font-style="normal" fill="#fff"  stroke="#fff" stroke-width="0.5" stroke-linejoin="round" vector-effect="non-scaling-stroke" >AÚN NO DECIDE</text>
<text transform="translate(338.36,1061.60) scale(1.2277,1)" font-family='"Liberation Sans", sans-serif' font-size="16.92" font-weight="bold" font-style="normal" fill="#23a255" letter-spacing="0.51" stroke="#23a255" stroke-width="1.4" stroke-linejoin="round" vector-effect="non-scaling-stroke" >3.2%</text>
<text transform="translate(600.54,1061.60) scale(1.0475,1)" font-family='"Liberation Sans", sans-serif' font-size="17.78" font-weight="bold" font-style="normal" fill="#222" letter-spacing="0.53" stroke="#222" stroke-width="1.4" stroke-linejoin="round" vector-effect="non-scaling-stroke" >19.1%</text>
<text transform="translate(724.26,840.10) scale(1.0294,1)" font-family='"Liberation Sans", sans-serif' font-size="27.31" font-weight="bold" font-style="normal" fill="#106cbe" letter-spacing="0.82" stroke="#106cbe" stroke-width="1.8" stroke-linejoin="round" vector-effect="non-scaling-stroke" >AGUASCALIENTES</text>
<text transform="translate(406.80,1135.30) scale(0.4713,1)" font-family='"Liberation Sans", sans-serif' font-size="39.82" font-weight="bold" font-style="normal" fill="#fff" letter-spacing="1.99"  >TRACKING MENSUAL</text>
<text transform="translate(117.22,1188.55) scale(1.2410,1)" font-family='"Liberation Sans", sans-serif' font-size="12.09" font-weight="bold" font-style="normal" fill="#1b73bb"  stroke="#1b73bb" stroke-width="0.9" stroke-linejoin="round" vector-effect="non-scaling-stroke" >AGO 2025</text>
<text transform="translate(267.20,1188.55) scale(1.2624,1)" font-family='"Liberation Sans", sans-serif' font-size="12.09" font-weight="bold" font-style="normal" fill="#1b73bb"  stroke="#1b73bb" stroke-width="0.9" stroke-linejoin="round" vector-effect="non-scaling-stroke" >SEP 2025</text>
<text transform="translate(416.58,1188.55) scale(1.2326,1)" font-family='"Liberation Sans", sans-serif' font-size="12.09" font-weight="bold" font-style="normal" fill="#1b73bb"  stroke="#1b73bb" stroke-width="0.9" stroke-linejoin="round" vector-effect="non-scaling-stroke" >OCT 2025</text>
<text transform="translate(563.47,1188.55) scale(1.2803,1)" font-family='"Liberation Sans", sans-serif' font-size="12.09" font-weight="bold" font-style="normal" fill="#1b73bb"  stroke="#1b73bb" stroke-width="0.9" stroke-linejoin="round" vector-effect="non-scaling-stroke" >NOV 2025</text>
<text transform="translate(713.45,1188.55) scale(1.3177,1)" font-family='"Liberation Sans", sans-serif' font-size="12.09" font-weight="bold" font-style="normal" fill="#1b73bb"  stroke="#1b73bb" stroke-width="0.9" stroke-linejoin="round" vector-effect="non-scaling-stroke" >DIC 2025</text>
<text transform="translate(862.29,1188.55) scale(1.2637,1)" font-family='"Liberation Sans", sans-serif' font-size="12.09" font-weight="bold" font-style="normal" fill="#1b73bb"  stroke="#1b73bb" stroke-width="0.9" stroke-linejoin="round" vector-effect="non-scaling-stroke" >ENE 2026</text>
<text transform="translate(138.89,1238.25) scale(1.2572,1)" font-family='"Liberation Sans", sans-serif' font-size="12.66" font-weight="bold" font-style="normal" fill="#2a2a2a" letter-spacing="0.38" stroke="#2a2a2a" stroke-width="0.7" stroke-linejoin="round" vector-effect="non-scaling-stroke" >37.7</text>
<text transform="translate(284.88,1233.85) scale(1.3265,1)" font-family='"Liberation Sans", sans-serif' font-size="12.66" font-weight="bold" font-style="normal" fill="#2a2a2a" letter-spacing="0.38" stroke="#2a2a2a" stroke-width="0.7" stroke-linejoin="round" vector-effect="non-scaling-stroke" >38.6</text>
<text transform="translate(435.09,1236.65) scale(1.2331,1)" font-family='"Liberation Sans", sans-serif' font-size="13.37" font-weight="bold" font-style="normal" fill="#2a2a2a" letter-spacing="0.40" stroke="#2a2a2a" stroke-width="0.7" stroke-linejoin="round" vector-effect="non-scaling-stroke" >36.8</text>
<text transform="translate(585.70,1236.05) scale(1.1368,1)" font-family='"Liberation Sans", sans-serif' font-size="13.80" font-weight="bold" font-style="normal" fill="#2a2a2a" letter-spacing="0.41" stroke="#2a2a2a" stroke-width="0.7" stroke-linejoin="round" vector-effect="non-scaling-stroke" >37.2</text>
<text transform="translate(733.89,1237.45) scale(1.1808,1)" font-family='"Liberation Sans", sans-serif' font-size="13.80" font-weight="bold" font-style="normal" fill="#2a2a2a" letter-spacing="0.41" stroke="#2a2a2a" stroke-width="0.7" stroke-linejoin="round" vector-effect="non-scaling-stroke" >36.9</text>
<text transform="translate(882.85,1235.25) scale(1.1791,1)" font-family='"Liberation Sans", sans-serif' font-size="14.51" font-weight="bold" font-style="normal" fill="#2a2a2a" letter-spacing="0.44" stroke="#2a2a2a" stroke-width="0.7" stroke-linejoin="round" vector-effect="non-scaling-stroke" >37.5</text>
<text transform="translate(142.06,1281.35) scale(1.1458,1)" font-family='"Liberation Sans", sans-serif' font-size="13.37" font-weight="bold" font-style="normal" fill="#2a2a2a" letter-spacing="0.40" stroke="#2a2a2a" stroke-width="0.7" stroke-linejoin="round" vector-effect="non-scaling-stroke" >29.5</text>
<text transform="translate(286.12,1281.35) scale(1.1476,1)" font-family='"Liberation Sans", sans-serif' font-size="12.80" font-weight="bold" font-style="normal" fill="#2a2a2a" letter-spacing="0.38" stroke="#2a2a2a" stroke-width="0.7" stroke-linejoin="round" vector-effect="non-scaling-stroke" >30.1</text>
<text transform="translate(444.03,1283.15) scale(1.2131,1)" font-family='"Liberation Sans", sans-serif' font-size="13.37" font-weight="bold" font-style="normal" fill="#2a2a2a" letter-spacing="0.40" stroke="#2a2a2a" stroke-width="0.7" stroke-linejoin="round" vector-effect="non-scaling-stroke" >28.9</text>
<text transform="translate(588.68,1285.05) scale(1.0846,1)" font-family='"Liberation Sans", sans-serif' font-size="13.37" font-weight="bold" font-style="normal" fill="#2a2a2a" letter-spacing="0.40" stroke="#2a2a2a" stroke-width="0.7" stroke-linejoin="round" vector-effect="non-scaling-stroke" >28.1</text>
<text transform="translate(738.06,1285.85) scale(1.2101,1)" font-family='"Liberation Sans", sans-serif' font-size="12.66" font-weight="bold" font-style="normal" fill="#2a2a2a" letter-spacing="0.38" stroke="#2a2a2a" stroke-width="0.7" stroke-linejoin="round" vector-effect="non-scaling-stroke" >29.5</text>
<text transform="translate(879.21,1267.25) scale(1.2049,1)" font-family='"Liberation Sans", sans-serif' font-size="14.08" font-weight="bold" font-style="normal" fill="#2a2a2a" letter-spacing="0.42" stroke="#2a2a2a" stroke-width="0.7" stroke-linejoin="round" vector-effect="non-scaling-stroke" >28.7</text>
<text transform="translate(144.23,1342.35) scale(1.3441,1)" font-family='"Liberation Sans", sans-serif' font-size="12.37" font-weight="bold" font-style="normal" fill="#2a2a2a" letter-spacing="0.37" stroke="#2a2a2a" stroke-width="0.7" stroke-linejoin="round" vector-effect="non-scaling-stroke" >6.4</text>
<text transform="translate(294.94,1342.35) scale(1.0610,1)" font-family='"Liberation Sans", sans-serif' font-size="12.37" font-weight="bold" font-style="normal" fill="#2a2a2a" letter-spacing="0.37" stroke="#2a2a2a" stroke-width="0.7" stroke-linejoin="round" vector-effect="non-scaling-stroke" >6.1</text>
<text transform="translate(436.70,1346.05) scale(1.1736,1)" font-family='"Liberation Sans", sans-serif' font-size="13.37" font-weight="bold" font-style="normal" fill="#2a2a2a" letter-spacing="0.40" stroke="#2a2a2a" stroke-width="0.7" stroke-linejoin="round" vector-effect="non-scaling-stroke" >5.2</text>
<text transform="translate(599.11,1343.25) scale(1.1442,1)" font-family='"Liberation Sans", sans-serif' font-size="13.37" font-weight="bold" font-style="normal" fill="#2a2a2a" letter-spacing="0.40" stroke="#2a2a2a" stroke-width="0.7" stroke-linejoin="round" vector-effect="non-scaling-stroke" >5.7</text>
<text transform="translate(741.11,1341.35) scale(1.1046,1)" font-family='"Liberation Sans", sans-serif' font-size="11.80" font-weight="bold" font-style="normal" fill="#2a2a2a" letter-spacing="0.35" stroke="#2a2a2a" stroke-width="0.7" stroke-linejoin="round" vector-effect="non-scaling-stroke" >6.1</text>
<text transform="translate(886.25,1343.25) scale(1.3252,1)" font-family='"Liberation Sans", sans-serif' font-size="13.80" font-weight="bold" font-style="normal" fill="#2a2a2a" letter-spacing="0.41" stroke="#2a2a2a" stroke-width="0.7" stroke-linejoin="round" vector-effect="non-scaling-stroke" >5.4</text>
<text transform="translate(204.43,1424.28) scale(1.1900,1)" font-family='"Liberation Sans", sans-serif' font-size="8.60" font-weight="normal" font-style="normal" fill="#2a2a2a"  stroke="#2a2a2a" stroke-width="0.45" stroke-linejoin="round" vector-effect="non-scaling-stroke" >Encuesta realizada con rigor científico y estadístico, autoadministrada y aplicada con formularios directos vía telefónica. Grupo Objetivo:</text>
<text transform="translate(26.36,1434.68) scale(1.1652,1)" font-family='"Liberation Sans", sans-serif' font-size="8.60" font-weight="normal" font-style="normal" fill="#2a2a2a"  stroke="#2a2a2a" stroke-width="0.45" stroke-linejoin="round" vector-effect="non-scaling-stroke" >Ciudadanos del Estado de Aguascalientes, hombres y mujeres, Mayores de 18 años de todos los niveles socioeconómicos y de todas las regiones que conforman el Estado. Muestra: Se levantó una muestra representa-</text>
<text transform="translate(24.62,1445.18) scale(1.1790,1)" font-family='"Liberation Sans", sans-serif' font-size="8.60" font-weight="normal" font-style="normal" fill="#2a2a2a"  stroke="#2a2a2a" stroke-width="0.45" stroke-linejoin="round" vector-effect="non-scaling-stroke" >tiva con 1,000 ciudadanos del Estado de Aguascalientes, asumiendo muestreo aleatorio simple con población infinita, el margen de error se ubica en el +/- 3.8% bajo supuesto de varianza máxima y se determina en un</text>
<text transform="translate(36.76,1455.78) scale(1.1469,1)" font-family='"Liberation Sans", sans-serif' font-size="8.60" font-weight="normal" font-style="normal" fill="#2a2a2a"  stroke="#2a2a2a" stroke-width="0.45" stroke-linejoin="round" vector-effect="non-scaling-stroke" >95% de confianza. Fecha de Levantamiento. Las encuestas fueron aplicadas entre los días 15 al 19 de Enero del 2026. Derechos reservados DEMOSCOPIA DIGITAL. Se autoriza su reproducción al hacer referencia al</text>
<text transform="translate(305.91,1466.28) scale(1.1803,1)" font-family='"Liberation Sans", sans-serif' font-size="8.60" font-weight="normal" font-style="normal" fill="#2a2a2a"  stroke="#2a2a2a" stroke-width="0.45" stroke-linejoin="round" vector-effect="non-scaling-stroke" >autor, Facebook/DemoscopiaDigital, Whatsapp 55 1003 2270 • www.demoscopiadigital.com</text>
<text transform="translate(92.19,1521.50) scale(0.9767,1)" font-family='"Liberation Sans", sans-serif' font-size="14.98" font-weight="normal" font-style="normal" fill="#7a7a7a"   >/demoscopiadigital</text>
<text transform="translate(330.06,1521.45) scale(1.1633,1)" font-family='"Liberation Sans", sans-serif' font-size="22.74" font-weight="bold" font-style="normal" fill="#808080"  stroke="#808080" stroke-width="0.9" stroke-linejoin="round" vector-effect="non-scaling-stroke" style="filter:drop-shadow(1px 4px 3px rgba(0,0,0,.25))">www.demoscopiadigital.com</text>
<text transform="translate(742.63,1492.60) scale(1.3025,1)" font-family='"Liberation Sans", sans-serif' font-size="11.44" font-weight="normal" font-style="normal" fill="#6a6a6a"  stroke="#6a6a6a" stroke-width="0.4" stroke-linejoin="round" vector-effect="non-scaling-stroke" >www.demoscopiadigital.com</text>
<text transform="translate(796.43,1510.45) scale(0.9955,1)" font-family='"Liberation Sans", sans-serif' font-size="16.43" font-weight="normal" font-style="normal" fill="#6a6a6a"  stroke="#6a6a6a" stroke-width="0.3" stroke-linejoin="round" vector-effect="non-scaling-stroke" >55 1003 2270</text>
<text transform="translate(811.90,1523.70) scale(1.1420,1)" font-family='"Liberation Sans", sans-serif' font-size="11.95" font-weight="bold" font-style="normal" fill="#6a6a6a"  stroke="#6a6a6a" stroke-width="0.6" stroke-linejoin="round" vector-effect="non-scaling-stroke" >WhatsApp</text>
<text transform="translate(192.37,1553.35) scale(1.2002,1)" font-family='"Liberation Sans", sans-serif' font-size="11.66" font-weight="bold" font-style="normal" fill="#fff"  stroke="#fff" stroke-width="0.9" stroke-linejoin="round" vector-effect="non-scaling-stroke" >Derechos Reservados Demoscopia Digital, se autoriza reproducción al hacer referencia al autor.</text>
</svg>
</body></html>
